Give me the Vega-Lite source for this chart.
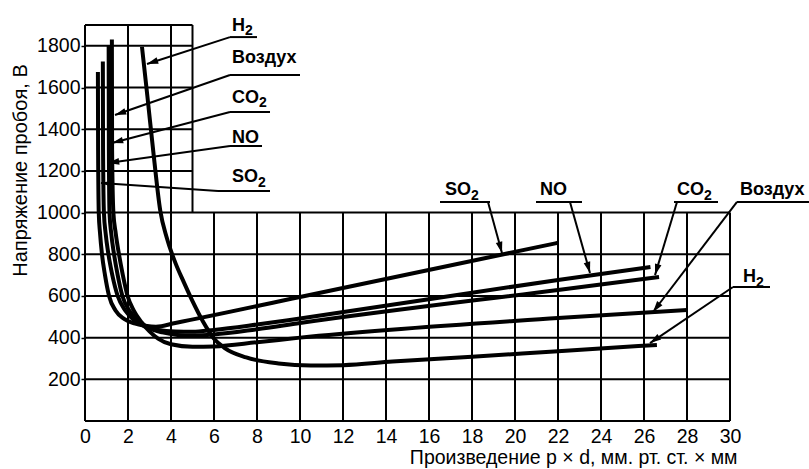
{
"$schema":"https://vega.github.io/schema/vega-lite/v6.json",
"width":645,"height":396,
"autosize":{"type":"none"},
"padding":{"left":85,"top":25,"right":79,"bottom":48},
"background":"white",
"config":{"view":{"stroke":null},"font":"Liberation Sans",
 "axis":{"labelFont":"Liberation Sans","titleFont":"Liberation Sans","labelColor":"#000","titleColor":"#000","labelFontSize":19.5,"titleFontSize":20,"titleFontWeight":"normal","grid":false,"domain":false,"labelFlush":false}},
"datasets":{
 "hgrid":[
  {"y":0,"x1":0,"x2":30},{"y":200,"x1":0,"x2":30},{"y":400,"x1":0,"x2":30},{"y":600,"x1":0,"x2":30},{"y":800,"x1":0,"x2":30},{"y":1000,"x1":0,"x2":30},
  {"y":1200,"x1":0,"x2":5},{"y":1400,"x1":0,"x2":5},{"y":1600,"x1":0,"x2":5},{"y":1800,"x1":0,"x2":5},{"y":1900,"x1":0,"x2":5}],
 "vgrid":[
  {"x":0,"y1":0,"y2":1900},{"x":2,"y1":0,"y2":1900},{"x":4,"y1":0,"y2":1900},{"x":5,"y1":1000,"y2":1900},
  {"x":6,"y1":0,"y2":1000},{"x":8,"y1":0,"y2":1000},{"x":10,"y1":0,"y2":1000},{"x":12,"y1":0,"y2":1000},{"x":14,"y1":0,"y2":1000},{"x":16,"y1":0,"y2":1000},{"x":18,"y1":0,"y2":1000},{"x":20,"y1":0,"y2":1000},{"x":22,"y1":0,"y2":1000},{"x":24,"y1":0,"y2":1000},{"x":26,"y1":0,"y2":1000},{"x":28,"y1":0,"y2":1000},{"x":30,"y1":0,"y2":1000}],
 "curves":[
  {"gas":"SO2","x":0.6,"y":1675},{"gas":"SO2","x":0.61,"y":1300},{"gas":"SO2","x":0.64,"y":1000},{"gas":"SO2","x":0.7,"y":900},{"gas":"SO2","x":0.79,"y":800},{"gas":"SO2","x":0.93,"y":700},{"gas":"SO2","x":1.12,"y":600},{"gas":"SO2","x":1.42,"y":530},{"gas":"SO2","x":1.82,"y":490},{"gas":"SO2","x":2.3,"y":468},{"gas":"SO2","x":2.8,"y":457},{"gas":"SO2","x":3.3,"y":452},{"gas":"SO2","x":4.2,"y":470},{"gas":"SO2","x":10,"y":595},{"gas":"SO2","x":22,"y":855},
  {"gas":"NO","x":0.83,"y":1725},{"gas":"NO","x":0.84,"y":1300},{"gas":"NO","x":0.88,"y":1000},{"gas":"NO","x":0.96,"y":900},{"gas":"NO","x":1.09,"y":800},{"gas":"NO","x":1.27,"y":700},{"gas":"NO","x":1.52,"y":600},{"gas":"NO","x":1.87,"y":530},{"gas":"NO","x":2.3,"y":482},{"gas":"NO","x":2.8,"y":453},{"gas":"NO","x":3.4,"y":437},{"gas":"NO","x":4.2,"y":429},{"gas":"NO","x":5,"y":428},{"gas":"NO","x":6,"y":437},{"gas":"NO","x":8,"y":463},{"gas":"NO","x":10,"y":492},{"gas":"NO","x":22,"y":677},{"gas":"NO","x":26.3,"y":739},
  {"gas":"CO2","x":1.1,"y":1800},{"gas":"CO2","x":1.11,"y":1300},{"gas":"CO2","x":1.14,"y":1000},{"gas":"CO2","x":1.22,"y":900},{"gas":"CO2","x":1.35,"y":800},{"gas":"CO2","x":1.52,"y":700},{"gas":"CO2","x":1.74,"y":600},{"gas":"CO2","x":2.06,"y":530},{"gas":"CO2","x":2.5,"y":480},{"gas":"CO2","x":3,"y":445},{"gas":"CO2","x":3.6,"y":425},{"gas":"CO2","x":4.3,"y":413},{"gas":"CO2","x":5,"y":410},{"gas":"CO2","x":6,"y":415},{"gas":"CO2","x":8,"y":440},{"gas":"CO2","x":10,"y":470},{"gas":"CO2","x":22,"y":629},{"gas":"CO2","x":26.7,"y":691},
  {"gas":"Air","x":1.25,"y":1830},{"gas":"Air","x":1.26,"y":1300},{"gas":"Air","x":1.32,"y":1000},{"gas":"Air","x":1.43,"y":900},{"gas":"Air","x":1.58,"y":800},{"gas":"Air","x":1.76,"y":700},{"gas":"Air","x":1.98,"y":600},{"gas":"Air","x":2.27,"y":530},{"gas":"Air","x":2.62,"y":475},{"gas":"Air","x":3,"y":430},{"gas":"Air","x":3.4,"y":395},{"gas":"Air","x":4,"y":368},{"gas":"Air","x":5,"y":356},{"gas":"Air","x":6,"y":358},{"gas":"Air","x":8,"y":378},{"gas":"Air","x":10,"y":400},{"gas":"Air","x":22,"y":494},{"gas":"Air","x":28,"y":533},
  {"gas":"H2","x":2.65,"y":1795},{"gas":"H2","x":2.9,"y":1560},{"gas":"H2","x":3.2,"y":1270},{"gas":"H2","x":3.5,"y":1010},{"gas":"H2","x":3.8,"y":880},{"gas":"H2","x":4.2,"y":760},{"gas":"H2","x":4.6,"y":665},{"gas":"H2","x":5,"y":575},{"gas":"H2","x":5.5,"y":475},{"gas":"H2","x":6,"y":395},{"gas":"H2","x":6.5,"y":350},{"gas":"H2","x":7.5,"y":305},{"gas":"H2","x":9,"y":276},{"gas":"H2","x":10.5,"y":266},{"gas":"H2","x":12,"y":268},{"gas":"H2","x":14.3,"y":285},{"gas":"H2","x":18,"y":308},{"gas":"H2","x":22,"y":335},{"gas":"H2","x":26.6,"y":365}],
 "labels":[
  {"t":"H","x":6.837,"y":1871},{"t":"Воздух","x":6.837,"y":1718},{"t":"CO","x":6.837,"y":1528},{"t":"NO","x":6.837,"y":1334},{"t":"SO","x":6.837,"y":1147},
  {"t":"SO","x":16.744,"y":1084},{"t":"NO","x":21.163,"y":1084},{"t":"CO","x":27.535,"y":1084},{"t":"Воздух","x":30.465,"y":1084},{"t":"H","x":30.605,"y":667}],
 "subs":[
  {"t":"2","x":7.44,"y":1852},{"t":"2","x":8.09,"y":1505},{"t":"2","x":8.05,"y":1123},{"t":"2","x":17.95,"y":1060},{"t":"2","x":28.79,"y":1060},{"t":"2","x":31.21,"y":643}],
 "underlines":[
  {"x1":6.744,"x2":8.0,"y":1842},{"x1":6.744,"x2":10.0,"y":1660},{"x1":6.744,"x2":8.605,"y":1483},{"x1":6.744,"x2":8.233,"y":1319},{"x1":6.186,"x2":8.605,"y":1104},
  {"x1":16.512,"x2":18.837,"y":1051},{"x1":20.977,"x2":23.116,"y":1051},{"x1":27.395,"x2":29.442,"y":1051},{"x1":30.326,"x2":33.674,"y":1051},{"x1":30.14,"x2":31.86,"y":643}],
 "arrows":[
  {"x1":6.744,"y1":1842,"x2":2.884,"y2":1713},{"x1":6.744,"y1":1660,"x2":1.395,"y2":1468},{"x1":6.744,"y1":1483,"x2":1.256,"y2":1334},{"x1":6.744,"y1":1319,"x2":1.07,"y2":1238},{"x1":6.186,"y1":1104,"x2":0.744,"y2":1142},
  {"x1":18.744,"y1":1051,"x2":19.395,"y2":806},{"x1":22.558,"y1":1051,"x2":23.488,"y2":710},{"x1":27.535,"y1":1051,"x2":26.512,"y2":700},{"x1":30.326,"y1":1051,"x2":26.419,"y2":523},{"x1":30.14,"y1":643,"x2":26.279,"y2":374}]
},
"layer":[
 {"data":{"name":"hgrid"},"mark":{"type":"rule","color":"#000","strokeWidth":2},
  "encoding":{
   "x":{"field":"x1","type":"quantitative","scale":{"domain":[0,30],"nice":false,"zero":false},
        "axis":{"values":[0,2,4,6,8,10,12,14,16,18,20,22,24,26,28,30],"format":"d","ticks":false,"labelPadding":6,"title":"Произведение p × d, мм. рт. ст. × мм","titleX":652,"titleY":42,"titleAlign":"right","titleBaseline":"alphabetic","titleAnchor":null,"titleFontSize":19.5}},
   "x2":{"field":"x2"},
   "y":{"field":"y","type":"quantitative","scale":{"domain":[0,1900],"nice":false,"zero":false},
        "axis":{"values":[200,400,600,800,1000,1200,1400,1600,1800],"format":"d","ticks":true,"tickSize":4,"tickColor":"#000","tickWidth":1.5,"labelPadding":1,"title":"Напряжение пробоя, В","titleX":-59,"titleY":145,"titleAngle":270,"titleAlign":"center","titleBaseline":"alphabetic","titleAnchor":null}}}},
 {"data":{"name":"vgrid"},"mark":{"type":"rule","color":"#000","strokeWidth":2},
  "encoding":{
   "x":{"field":"x","type":"quantitative","scale":{"domain":[0,30],"nice":false,"zero":false}},
   "y":{"field":"y1","type":"quantitative","scale":{"domain":[0,1900],"nice":false,"zero":false}},
   "y2":{"field":"y2"}}},
 {"data":{"name":"curves"},"mark":{"type":"line","color":"#000","strokeWidth":4,"interpolate":"monotone","strokeCap":"butt"},
  "encoding":{
   "x":{"field":"x","type":"quantitative","scale":{"domain":[0,30],"nice":false,"zero":false}},
   "y":{"field":"y","type":"quantitative","scale":{"domain":[0,1900],"nice":false,"zero":false}},
   "detail":{"field":"gas"}}},
 {"data":{"name":"underlines"},"mark":{"type":"rule","color":"#000","strokeWidth":2},
  "encoding":{
   "x":{"field":"x1","type":"quantitative","scale":{"domain":[0,30],"nice":false,"zero":false}},
   "x2":{"field":"x2"},
   "y":{"field":"y","type":"quantitative","scale":{"domain":[0,1900],"nice":false,"zero":false}}}},
 {"data":{"name":"arrows"},"mark":{"type":"rule","color":"#000","strokeWidth":2},
  "encoding":{
   "x":{"field":"x1","type":"quantitative","scale":{"domain":[0,30],"nice":false,"zero":false}},
   "x2":{"field":"x2"},
   "y":{"field":"y1","type":"quantitative","scale":{"domain":[0,1900],"nice":false,"zero":false}},
   "y2":{"field":"y2"}}},
 {"data":{"name":"arrows"},
  "transform":[{"calculate":"atan2((datum.x2-datum.x1)*21.5,(datum.y2-datum.y1)*396/1900)*180/PI","as":"ang"}],
  "mark":{"type":"point","shape":"M0,0 L0.3,1 L-0.3,1 Z","filled":true,"color":"#000","opacity":1,"size":500,"strokeWidth":0},
  "encoding":{
   "x":{"field":"x2","type":"quantitative","scale":{"domain":[0,30],"nice":false,"zero":false}},
   "y":{"field":"y2","type":"quantitative","scale":{"domain":[0,1900],"nice":false,"zero":false}},
   "angle":{"field":"ang","type":"quantitative","scale":null}}},
 {"data":{"name":"labels"},"mark":{"type":"text","align":"left","baseline":"alphabetic","font":"Liberation Sans","fontSize":18,"fontWeight":"bold","color":"#000"},
  "encoding":{
   "x":{"field":"x","type":"quantitative","scale":{"domain":[0,30],"nice":false,"zero":false}},
   "y":{"field":"y","type":"quantitative","scale":{"domain":[0,1900],"nice":false,"zero":false}},
   "text":{"field":"t"}}},
 {"data":{"name":"subs"},"mark":{"type":"text","align":"left","baseline":"alphabetic","font":"Liberation Sans","fontSize":14,"fontWeight":"bold","color":"#000"},
  "encoding":{
   "x":{"field":"x","type":"quantitative","scale":{"domain":[0,30],"nice":false,"zero":false}},
   "y":{"field":"y","type":"quantitative","scale":{"domain":[0,1900],"nice":false,"zero":false}},
   "text":{"field":"t"}}}
]
}
